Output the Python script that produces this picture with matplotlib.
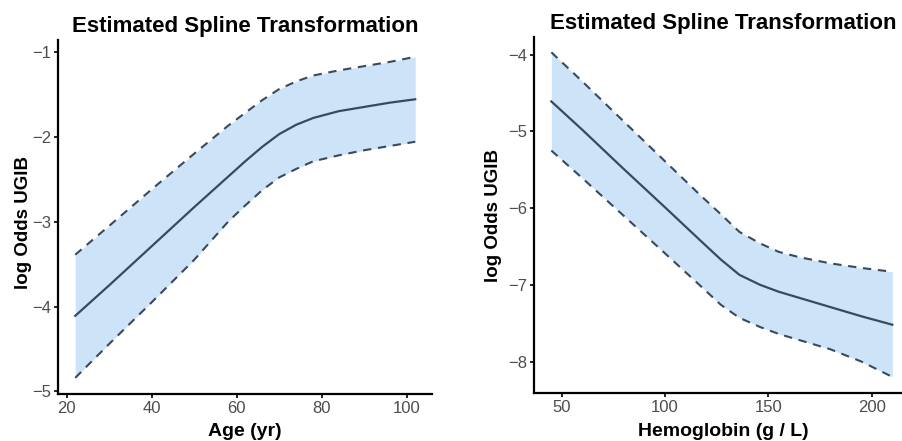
import matplotlib
matplotlib.use("Agg")
import matplotlib.pyplot as plt

# Age panel
age = [22, 30, 40, 50, 58, 62, 66, 70, 74, 78, 84, 90, 96, 102]
age_fit = [-4.11, -3.75, -3.29, -2.83, -2.47, -2.29, -2.12, -1.97, -1.86, -1.78, -1.70, -1.65, -1.60, -1.56]
age_upper = [-3.39, -3.05, -2.62, -2.20, -1.87, -1.72, -1.57, -1.44, -1.35, -1.28, -1.22, -1.17, -1.12, -1.06]
age_lower = [-4.84, -4.44, -3.95, -3.45, -3.00, -2.81, -2.63, -2.48, -2.38, -2.29, -2.22, -2.16, -2.11, -2.06]

# Hemoglobin panel
hb = [45, 60, 80, 100, 117, 127, 136, 146, 155, 165, 180, 195, 210]
hb_fit = [-4.61, -4.98, -5.49, -5.99, -6.42, -6.67, -6.87, -7.00, -7.09, -7.17, -7.29, -7.41, -7.52]
hb_upper = [-3.97, -4.35, -4.87, -5.39, -5.83, -6.08, -6.31, -6.46, -6.57, -6.64, -6.72, -6.78, -6.83]
hb_lower = [-5.25, -5.61, -6.10, -6.59, -7.01, -7.26, -7.43, -7.55, -7.64, -7.72, -7.84, -8.00, -8.20]

TITLE = "Estimated Spline Transformation"
YLABEL = "log Odds UGIB"

plt.rcParams["font.family"] = ["Liberation Sans", "DejaVu Sans"]

LINE = "#3a4a5d"
FILL = "#cde3f8"
TICK_GRAY = "#4d4d4d"

fig = plt.figure(figsize=(9.02, 4.41), dpi=100)
ax1 = fig.add_axes([58 / 902, 47 / 441, 374 / 902, 354 / 441])
ax2 = fig.add_axes([534 / 902, 48 / 441, 379 / 902, 356 / 441])


def draw_panel(ax, x, fit, lo, hi, xlabel, xticks, yticks, xlim, ylim):
    ax.fill_between(x, lo, hi, color=FILL, lw=0)
    ax.plot(x, hi, color=LINE, lw=1.5, ls=(0, (4, 3.2)))
    ax.plot(x, lo, color=LINE, lw=1.5, ls=(0, (4, 3.2)))
    ax.plot(x, fit, color=LINE, lw=1.6)
    ax.set_xlim(*xlim)
    ax.set_ylim(*ylim)
    ax.set_xticks(xticks)
    ax.set_yticks(yticks)
    ax.set_yticklabels([f"\u2212{abs(v)}" for v in yticks])
    for s in ("top", "right"):
        ax.spines[s].set_visible(False)
    for s in ("left", "bottom"):
        ax.spines[s].set_linewidth(1.6)
        ax.spines[s].set_color("black")
    ax.tick_params(length=3, width=1.2, color="black", labelsize=12,
                   labelcolor=TICK_GRAY, pad=2)
    ax.set_title(TITLE, fontsize=16, fontweight="bold", pad=5.5)
    ax.set_xlabel(xlabel, fontsize=14, fontweight="bold")
    ax.set_ylabel(YLABEL, fontsize=13.5, fontweight="bold")


draw_panel(ax1, age, age_fit, age_lower, age_upper, "Age (yr)",
           [20, 40, 60, 80, 100], [-1, -2, -3, -4, -5], (17.95, 105.95), (-5.03, -0.862))
draw_panel(ax2, hb, hb_fit, hb_lower, hb_upper, "Hemoglobin (g / L)",
           [50, 100, 150, 200], [-4, -5, -6, -7, -8], (36.6, 220), (-8.41, -3.77))

ax1.yaxis.set_label_coords(-0.070, 0.485)
ax2.yaxis.set_label_coords(-0.084, 0.5)
ax1.xaxis.set_label_coords(0.5, -0.083)
ax2.xaxis.set_label_coords(0.5, -0.085)

fig.savefig("out.png", dpi=100)
